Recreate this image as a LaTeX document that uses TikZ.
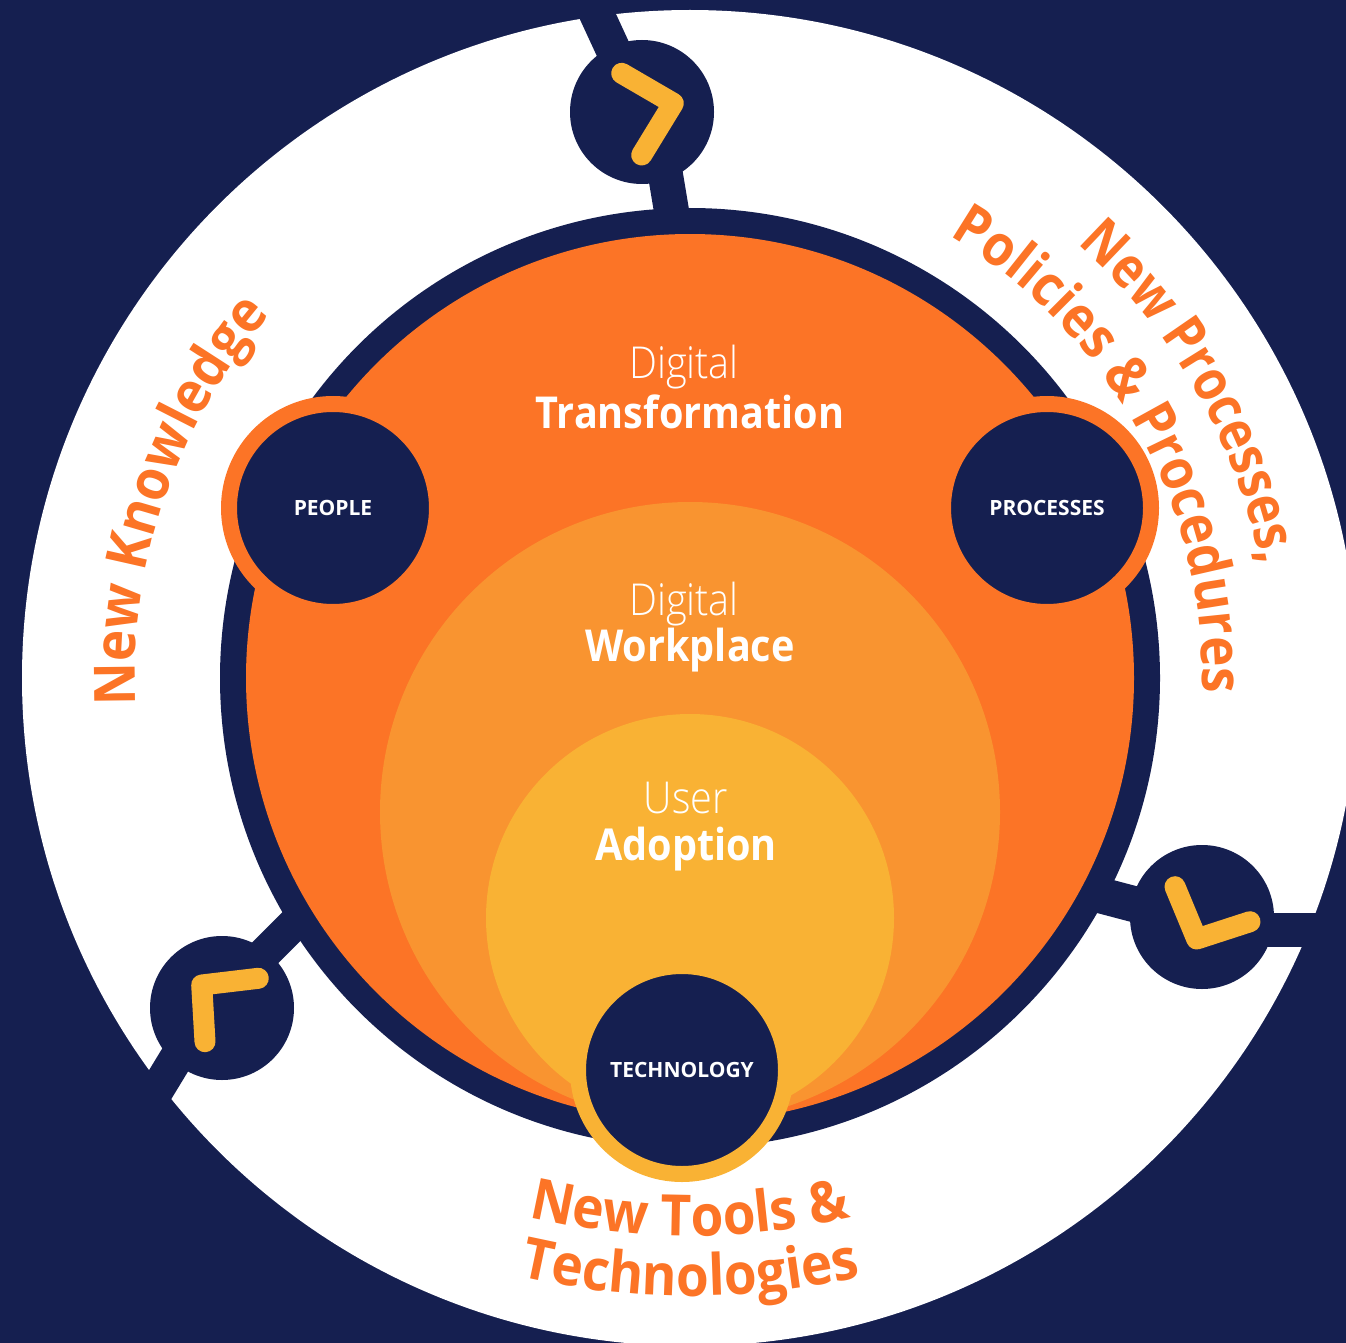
\documentclass[tikz,border=0pt]{standalone}
\usepackage{fontspec}
\setmainfont{Open Sans}[FakeStretch=0.9]
\newfontfamily\curvefam{Open Sans}[FakeStretch=0.93]
\newfontfamily\curvefamB{Open Sans}[FakeStretch=0.9]
\newfontfamily\curvefamC{Open Sans}[FakeStretch=0.86]
\newfontfamily\labelfam{Open Sans}
\IfFontExistsTF{Open Sans Light}{\newfontfamily\lightfont{Open Sans Light}[FakeStretch=0.9]}{\newfontfamily\lightfont{Open Sans}[FakeStretch=0.9]}
\usetikzlibrary{decorations.text}
\definecolor{navy}{HTML}{151F50}
\definecolor{orangeA}{HTML}{FC7426}
\definecolor{orangeB}{HTML}{F99430}
\definecolor{yellowA}{HTML}{F9B234}
\newcommand\cvfont{\fontsize{57}{57}\selectfont\curvefam\bfseries\color{orangeA}}
\newcommand\cvfontB{\fontsize{57}{57}\selectfont\curvefamB\bfseries\color{orangeA}}
\newcommand\cvfontC{\fontsize{57}{57}\selectfont\curvefamC\bfseries\color{orangeA}}
\begin{document}
\begin{tikzpicture}[x=1pt,y=1pt,
  band/.style={draw=navy,line width=35pt},
  hub/.style={circle,fill=navy,minimum size=144pt,inner sep=0pt},
  chev/.style={draw=yellowA,line width=21pt,line cap=round,line join=round},
  role/.style={circle,fill=navy,minimum size=208pt,inner sep=0pt,line width=16pt,
    text=white,font=\fontsize{21}{21}\selectfont\labelfam\bfseries},
  lighttxt/.style={text=white,anchor=base,inner sep=0pt,font=\fontsize{44}{44}\selectfont\lightfont},
  boldtxt/.style={text=white,anchor=base,inner sep=0pt,font=\fontsize{44}{44}\selectfont\bfseries},
  curved/.style={decorate,decoration={text along path,text align=center,text={|\cvfont|#1}}},
  curvedB/.style={decorate,decoration={text along path,text align=center,text={|\cvfontB|#1}}},
  curvedC/.style={decorate,decoration={text along path,text align=center,text={|\cvfontC|#1}}}]
\useasboundingbox (0,0) rectangle (1346,-1343);
\fill[navy] (0,0) rectangle (1346,-1343);
\coordinate (C) at (690,-678);
\fill[white] (C) circle[radius=668];
% hub positions
\coordinate (topc) at (642,-112);
\coordinate (rc) at (1202,-917);
\coordinate (lc) at (222,-1008);
% bands
\coordinate (tA) at (581,20);
\coordinate (tB) at (655,-112);
\coordinate (tC) at (678,-250);
\draw[band] (tA) -- (topc);
\draw[band] (tB) -- (tC);
\coordinate (rL1) at (1202,-922);
\coordinate (rL2) at (1050,-882);
\coordinate (rR1) at (1202,-929.5);
\coordinate (rR2) at (1380,-929.5);
\draw[band,line width=36pt] (rL1) -- (rL2);
\draw[band,line width=34pt] (rR1) -- (rR2);
\coordinate (lU1) at (216,-1002);
\coordinate (lU2) at (340,-878);
\coordinate (lD1) at (211,-1001);
\coordinate (lD2) at (107,-1172);
\draw[band,line width=33pt] (lU1) -- (lU2);
\draw[band,line width=34pt] (lD1) -- (lD2);
% main discs
\fill[navy] (C) circle[radius=470];
\fill[orangeA] (C) circle[radius=444];
\fill[orangeB] (690,-812) circle[radius=310];
\fill[yellowA] (690,-918) circle[radius=204];
% centre texts
\node[lighttxt] (d1) at (684,-378) {Digital};
\node[boldtxt] (t1) at (690,-428) {Transformation};
\node[lighttxt] (d2) at (684,-615) {Digital};
\node[boldtxt] (w2) at (690,-661) {Workplace};
\node[lighttxt] (u3) at (686,-813) {User};
\node[boldtxt] (a3) at (686,-860) {Adoption};
% role circles
\node[role,draw=orangeA] (people) at (333,-508) {PEOPLE};
\node[role,draw=orangeA] (processes) at (1047,-508) {PROCESSES};
\node[role,draw=yellowA] (technology) at (682,-1070) {TECHNOLOGY};
% hubs with chevrons
\node[hub] (top) at (topc) {};
\node[hub] (right) at (rc) {};
\node[hub] (left) at (lc) {};
\coordinate (c1a) at (621.7,-73.3);
\coordinate (c1b) at (673.3,-103.3);
\coordinate (c1c) at (641.7,-155);
\draw[chev] (c1a) -- (c1b) -- (c1c);
\coordinate (c2a) at (1175,-886.7);
\coordinate (c2b) at (1196.7,-939);
\coordinate (c2c) at (1250,-921.7);
\draw[chev] (c2a) -- (c2b) -- (c2c);
\coordinate (c3a) at (258.3,-978.3);
\coordinate (c3b) at (201.7,-985);
\coordinate (c3c) at (205,-1041.7);
\draw[chev] (c3a) -- (c3b) -- (c3c);
% curved texts
\path[curved={New Knowledge}] (C) ++(201:555) arc[start angle=201,end angle=121,radius=555];
\path[curvedC={New Processes,}] (C) ++(69.7:582) arc[start angle=69.7,end angle=-10.3,radius=582];
\path[curvedB={Policies {\&} Procedures}] (C) ++(74:512) arc[start angle=74,end angle=-16,radius=512];
\coordinate (B) at (690,-540);
\path[curved={New Tools {\&}}] (B) ++(250:696) arc[start angle=250,end angle=290,radius=696];
\path[curved={Technologies}] (B) ++(250:756) arc[start angle=250,end angle=290,radius=756];
\end{tikzpicture}
\end{document}
